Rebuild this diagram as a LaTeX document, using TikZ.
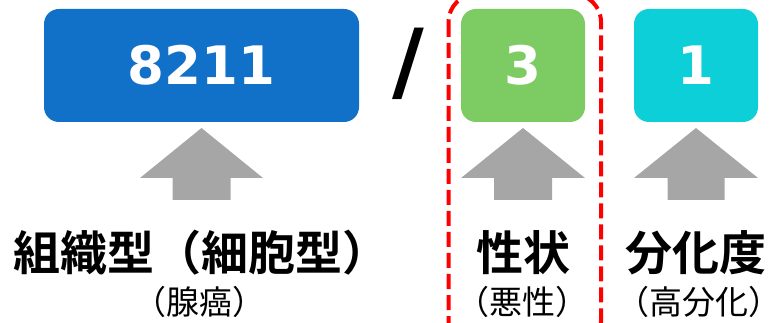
\documentclass[tikz,border=0pt]{standalone}
\usepackage{fontspec}
\newfontfamily\jpfont{Noto Sans CJK JP}[BoldFont={Noto Sans CJK JP Bold}]
\newfontfamily\djfont{DejaVu Sans}
\definecolor{cblue}{HTML}{1170C8}
\definecolor{cgreen}{HTML}{7DCB63}
\definecolor{ccyan}{HTML}{0DCFD8}
\definecolor{cgray}{HTML}{A6A6A6}
\definecolor{cred}{HTML}{FF0000}
\tikzset{
  codenum/.style={text=white, font=\djfont\bfseries\fontsize{53}{58}\selectfont, inner sep=0pt},
  biglabel/.style={font=\jpfont\bfseries\fontsize{47}{52}\selectfont, inner sep=0pt},
  smalllabel/.style={font=\jpfont\fontsize{33}{36}\selectfont, inner sep=0pt},
  uparrow/.style={fill=cgray},
  highlight/.style={draw=cred, line width=4pt, dash pattern=on 15pt off 6pt, rounded corners=28pt}
}
\begin{document}
\begin{tikzpicture}[x=1pt,y=-1pt]
\useasboundingbox (0,0) rectangle (774,323);
% boxes
\fill[cblue, rounded corners=15pt] (44,9) rectangle (359,122);
\fill[cgreen, rounded corners=15pt] (461,9) rectangle (585,122);
\fill[ccyan, rounded corners=15pt] (634,9) rectangle (758,122);
\node[codenum] (n1) at (201.5,65.5) {8211};
\node[codenum] (n2) at (523,65.5) {3};
\node[codenum] (n3) at (696,65.5) {1};
% slash
\node[anchor=base, inner sep=0pt, font=\djfont\bfseries\fontsize{87}{90}\selectfont] (sl) at (408.5,91.5) {/};
% arrows
\foreach \cx/\hw/\sw in {201.5/61.5/29, 523/62/29, 696/62/28.5}{
  \fill[uparrow] (\cx,128) -- (\cx+\hw,178) -- (\cx+\sw,178) -- (\cx+\sw,200)
     -- (\cx-\sw,200) -- (\cx-\sw,178) -- (\cx-\hw,178) -- cycle;
}
% labels
\node[biglabel] (l1) at (201.5,253) {組織型（細胞型）};
\node[biglabel] (l2) at (523,253) {性状};
\node[biglabel] (l3) at (696,253) {分化度};
\node[smalllabel] (s1) at (199,302) {（腺癌）};
\node[smalllabel] (s2) at (522,302) {（悪性）};
\node[smalllabel] (s3) at (699,302) {\kern-0.5em（高分化）\kern-0.5em};
% highlight
\draw[highlight] (448.5,-6) rectangle (601,350);
\end{tikzpicture}
\end{document}
